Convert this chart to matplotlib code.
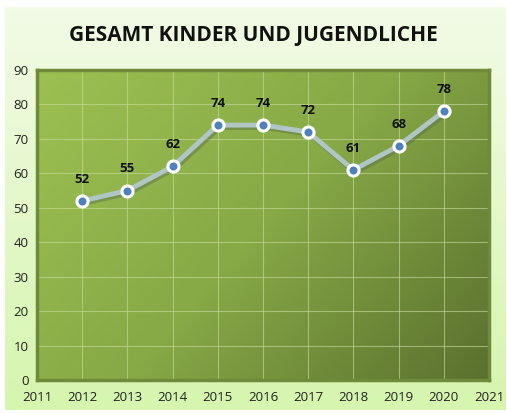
import numpy as np
import matplotlib.pyplot as plt
from matplotlib.colors import LinearSegmentedColormap

# Data
years = [2012, 2013, 2014, 2015, 2016, 2017, 2018, 2019, 2020]
counts = [52, 55, 62, 74, 74, 72, 61, 68, 78]
title = "GESAMT KINDER UND JUGENDLICHE"

plt.rcParams['font.family'] = ['Open Sans', 'DejaVu Sans']

W, H = 507, 413
fig = plt.figure(figsize=(W / 100, H / 100), dpi=100)
fig.patch.set_facecolor('white')

# light green chart background with soft vertical gradient
bg = fig.add_axes([5 / W, 3 / H, 500 / W, 403 / H])
bg_cmap = LinearSegmentedColormap.from_list('bg', ['#f2fbe6', '#d6f5ae'])
bg.imshow(np.linspace(0, 1, 100).reshape(-1, 1), aspect='auto', cmap=bg_cmap,
          extent=[0, 1, 0, 1])
bg.set_axis_off()

# plot area
x0, x1, y0, y1 = 37, 489, 70, 380
ax = fig.add_axes([x0 / W, 1 - y1 / H, (x1 - x0) / W, (y1 - y0) / H])
ax.set_xlim(2011, 2021)
ax.set_ylim(0, 90)

# diagonal gradient fill of the plot area
gx, gy = np.meshgrid(np.linspace(0, 1, 200), np.linspace(0, 1, 200))
grad = 0.75 * gx + 0.45 * gy
area_cmap = LinearSegmentedColormap.from_list('area', ['#9dc052', '#87a946', '#5a702e'])
ax.imshow(grad, aspect='auto', cmap=area_cmap, extent=[2011, 2021, 0, 90],
          origin='upper', zorder=0)

ax.set_xticks(range(2011, 2022))
ax.set_yticks(range(0, 91, 10))
ax.grid(True, color='#c9dca0', lw=0.8, alpha=0.6, zorder=1)
ax.tick_params(length=0, labelsize=9.5, colors='#222222', pad=6)
ax.tick_params(axis='x', pad=8)
for s in ax.spines.values():
    s.set_color('#6f8a3a')
    s.set_linewidth(2.5)

# shadow + line
ax.plot(np.array(years) + 0.04, np.array(counts) - 0.6, color='#5a6e4a',
        lw=4, alpha=0.45, zorder=2, solid_capstyle='round')
ax.plot(years, counts, color='#b0c6c4', lw=3.5, zorder=3, solid_capstyle='round')
ax.plot(years, counts, 'o', ms=8, mfc='#4f81bd', mec='white', mew=2.2, zorder=4)

for x, y in zip(years, counts):
    ax.annotate(str(y), (x, y), textcoords='offset points', xytext=(0, 11),
                ha='center', va='bottom', fontsize=9.5, fontweight='bold',
                color='#111111')

fig.text(0.5, 1 - 36 / H, title, ha='center', va='center', fontsize=15,
         fontweight='bold', color='#111111')

fig.savefig('out.png', dpi=100)
